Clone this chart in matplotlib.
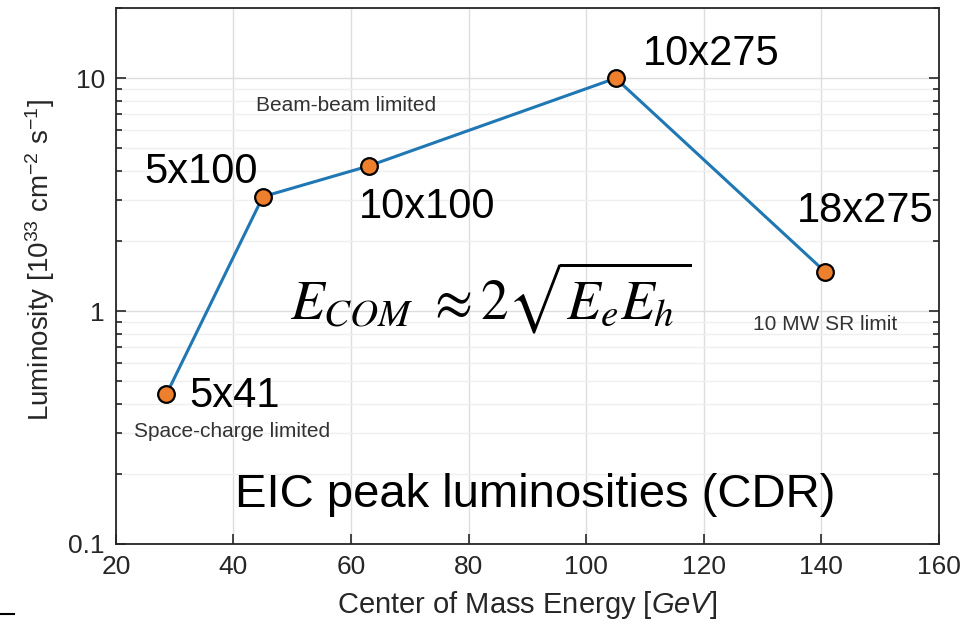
import numpy as np
import matplotlib.pyplot as plt
from matplotlib.ticker import LogLocator, FixedLocator, NullFormatter
from matplotlib.lines import Line2D

# data
energy = [28.6, 45.0, 63.0, 105.0, 140.7]      # GeV
lumi = [0.44, 3.1, 4.2, 10.0, 1.47]            # 10^33 cm^-2 s^-1
configs = ['5x41', '5x100', '10x100', '10x275', '18x275']
label_x = [32.4, 44.2, 61.3, 109.6, 135.8]
label_y = [0.43, 3.95, 2.8, 12.7, 2.7]
label_ha = ['left', 'right', 'left', 'left', 'left']

plt.rcParams['font.family'] = ['Liberation Sans', 'DejaVu Sans']
plt.rcParams['mathtext.fontset'] = 'custom'
plt.rcParams['mathtext.rm'] = 'Liberation Sans'
plt.rcParams['mathtext.it'] = 'Liberation Sans:italic'

gray = '#262626'

fig = plt.figure(figsize=(9.66, 6.26), dpi=100)
ax = fig.add_axes([0.120, 0.131, 0.852, 0.856])

ax.semilogy(energy, lumi, '-o', color='#1f77b4', lw=2.2,
            mfc='#ee7f2d', mec='black', mew=1.6, ms=12, zorder=5)

for t, x, y, ha in zip(configs, label_x, label_y, label_ha):
    ax.text(x, y, t, fontsize=30, ha=ha, va='center', color='black')

# notes
ax.text(59.1, 7.6, 'Beam-beam limited', fontsize=15, ha='center', va='center', color='#333333')
ax.text(39.8, 0.303, 'Space-charge limited', fontsize=15, ha='center', va='center', color='#333333')
ax.text(140.6, 0.875, '10 MW SR limit', fontsize=15, ha='center', va='center', color='#333333')
ax.text(83.8, 1.14, r'$E_{COM}\ \approx 2\sqrt{E_e E_h\,}$', fontsize=40, ha='center', va='center',
        math_fontfamily='stix')
ax.text(91.4, 0.163, 'EIC peak luminosities (CDR)', fontsize=34, ha='center', va='center')

# axes
ax.set_xlim(20, 160)
ax.set_ylim(0.1, 20)
ax.set_xticks(np.arange(20, 161, 20))
ax.yaxis.set_major_locator(FixedLocator([0.1, 1, 10]))
ax.yaxis.set_minor_locator(LogLocator(base=10, subs=np.arange(2, 10)))
ax.yaxis.set_minor_formatter(NullFormatter())
ax.set_yticklabels(['0.1', '1', '10'])

ax.tick_params(which='both', direction='in', right=True, top=False, colors=gray,
               labelsize=19, width=1.2)
ax.tick_params(which='major', length=7, pad=8)
ax.tick_params(which='minor', length=4)
for s in ax.spines.values():
    s.set_color(gray)
    s.set_linewidth(1.3)

ax.grid(True, which='major', color='#dddddd', lw=1)
ax.grid(True, which='minor', axis='y', color='#efefef', lw=1)
ax.set_axisbelow(True)

ax.set_xlabel(r'Center of Mass Energy $\mathit{[GeV]}$', fontsize=21, color=gray, labelpad=7)
ax.set_ylabel(r'Luminosity [10$^{33}$ cm$^{-2}$ s$^{-1}$]', fontsize=20, color=gray)
ax.yaxis.set_label_coords(-0.072, 0.53)

# small dash at bottom left of the picture
fig.add_artist(Line2D([0.0, 0.014], [0.019, 0.019], color='black', lw=1.5))

plt.savefig('out.png', dpi=100)
